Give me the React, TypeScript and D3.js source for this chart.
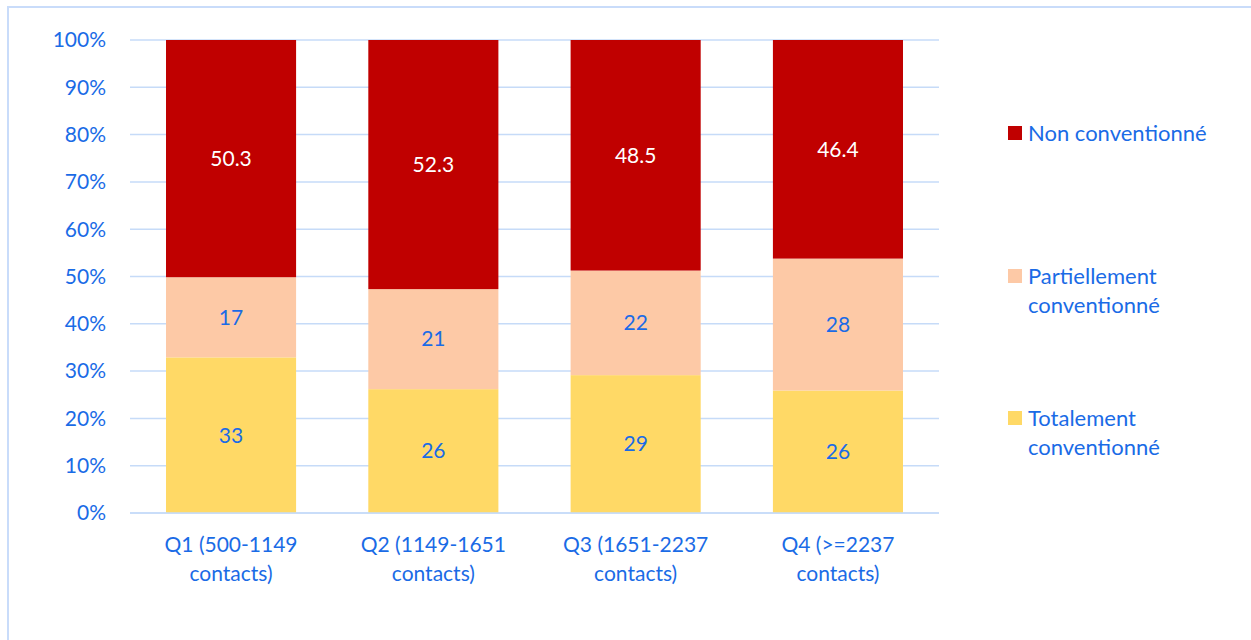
import React from "react";
import * as d3 from "d3";

// categories (two-line labels) and series values
const categories = ["Q1", "Q2", "Q3", "Q4"];
const categoryLines = [
  ["Q1 (500-1149", "contacts)"],
  ["Q2 (1149-1651", "contacts)"],
  ["Q3 (1651-2237", "contacts)"],
  ["Q4 (>=2237", "contacts)"],
];
const totalement = [33, 26, 29, 26];
const partiellement = [17, 21, 22, 28];
const nonConventionne = [50.3, 52.3, 48.5, 46.4];
const yTicks = [0, 0.1, 0.2, 0.3, 0.4, 0.5, 0.6, 0.7, 0.8, 0.9, 1];

const keys = ["totalement", "partiellement", "non"];
const legendLines: Record<string, string[]> = {
  non: ["Non conventionné"],
  partiellement: ["Partiellement", "conventionné"],
  totalement: ["Totalement", "conventionné"],
};
const colors: Record<string, string> = {
  totalement: "#ffd966",
  partiellement: "#fdc9a6",
  non: "#c00000",
};
const labelColors: Record<string, string> = {
  totalement: "#1a6be6",
  partiellement: "#1a6be6",
  non: "#ffffff",
};

const W = 1251;
const H = 640;
const margin = { top: 40, right: 312, bottom: 127, left: 130 };
const FONT = "Lato, 'Open Sans', sans-serif";
const BLUE = "#1a6be6";
const GRID = "#c6dbf8";
const FS = 21;

export default function App() {
  const data = categories.map((c, i) => ({
    cat: c,
    totalement: totalement[i],
    partiellement: partiellement[i],
    non: nonConventionne[i],
  }));

  const layers = d3
    .stack<any>()
    .keys(keys)
    .offset(d3.stackOffsetExpand)(data);

  const x = d3
    .scaleBand()
    .domain(categories)
    .range([margin.left, W - margin.right])
    .paddingInner(0.357)
    .paddingOuter(0.178);

  const y = d3
    .scaleLinear()
    .domain([0, 1])
    .range([H - margin.bottom, margin.top]);

  const legendOrder = ["non", "partiellement", "totalement"];
  const legendY = [133, 276, 418];

  return (
    <svg
      width={W}
      height={H}
      style={{ position: "absolute", left: 0, top: 0, background: "#fff" }}
      fontFamily={FONT}
    >
      {/* outer frame */}
      <rect x={8} y={7} width={W + 10} height={H + 10} fill="none" stroke="#c9dcfa" strokeWidth={2} />

      {/* grid + y axis labels */}
      {yTicks.map((t) => (
        <g key={t}>
          <line
            x1={margin.left}
            x2={W - margin.right}
            y1={y(t)}
            y2={y(t)}
            stroke={GRID}
            strokeWidth={1.5}
          />
          <text
            x={106}
            y={y(t)}
            dy="0.35em"
            textAnchor="end"
            fontSize={FS}
            fill={BLUE}
          >
            {d3.format(".0%")(t)}
          </text>
        </g>
      ))}

      {/* stacked bars */}
      {layers.map((layer) => (
        <g key={layer.key}>
          {layer.map((seg, i) => (
            <rect
              key={i}
              x={x(seg.data.cat)}
              width={x.bandwidth()}
              y={y(seg[1])}
              height={y(seg[0]) - y(seg[1])}
              fill={colors[layer.key]}
            />
          ))}
          {layer.map((seg, i) => (
            <text
              key={"l" + i}
              x={x(seg.data.cat)! + x.bandwidth() / 2}
              y={(y(seg[0]) + y(seg[1])) / 2}
              dy="0.35em"
              textAnchor="middle"
              fontSize={FS}
              fill={labelColors[layer.key]}
            >
              {seg.data[layer.key]}
            </text>
          ))}
        </g>
      ))}

      {/* x axis line */}
      <line
        x1={margin.left}
        x2={W - margin.right}
        y1={y(0)}
        y2={y(0)}
        stroke={GRID}
        strokeWidth={1.5}
      />

      {/* category labels */}
      {categories.map((c, i) => (
        <text
          key={c}
          x={x(c)! + x.bandwidth() / 2}
          y={545}
          textAnchor="middle"
          fontSize={FS}
          fill={BLUE}
        >
          {categoryLines[i].map((ln, j) => (
            <tspan key={j} x={x(c)! + x.bandwidth() / 2} dy={j === 0 ? "0.35em" : 29}>
              {ln}
            </tspan>
          ))}
        </text>
      ))}

      {/* legend */}
      {legendOrder.map((k, i) => (
        <g key={k}>
          <rect x={1008} y={legendY[i] - 7} width={14} height={14} fill={colors[k]} />
          <text x={1028} y={legendY[i]} fontSize={22} fill={BLUE}>
            {legendLines[k].map((ln, j) => (
              <tspan key={j} x={1028} dy={j === 0 ? "0.35em" : 29}>
                {ln}
              </tspan>
            ))}
          </text>
        </g>
      ))}
    </svg>
  );
}
